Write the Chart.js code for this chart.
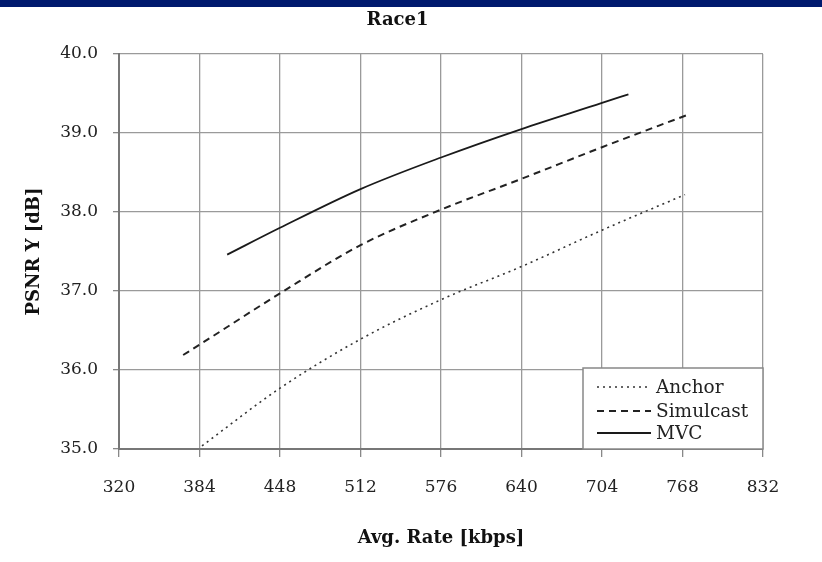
<!DOCTYPE html>
<html>
<head>
<meta charset="utf-8">
<title>Race1</title>
<script src="https://cdn.jsdelivr.net/npm/chart.js@4"></script>
<style>
  body { margin: 0; background: #fff; }
  #bar { position: absolute; left: 0; top: 0; width: 822px; height: 7px; background: #001a6e; }
  #wrap { position: absolute; left: 0; top: 0; width: 822px; height: 562px; }
</style>
</head>
<body>
<div id="wrap"><canvas id="chart" width="822" height="562"></canvas></div>
<div id="bar"></div>
<script>
// values
const anchorRate = [386, 448, 512, 576, 640, 704, 770];
const anchorPsnr = [35.04, 35.77, 36.39, 36.89, 37.31, 37.77, 38.22];
const simulcastRate = [371, 384, 448, 512, 576, 640, 704, 772];
const simulcastPsnr = [36.19, 36.32, 36.97, 37.58, 38.03, 38.42, 38.82, 39.23];
const mvcRate = [406, 448, 512, 576, 640, 704, 725];
const mvcPsnr = [37.46, 37.80, 38.29, 38.69, 39.05, 39.38, 39.49];
const seriesNames = ['Anchor', 'Simulcast', 'MVC'];

const FONT = "'DejaVu Serif', 'Liberation Serif', serif";

const toPoints = (xs, ys) => xs.map((x, i) => ({ x, y: ys[i] }));

// legend box in the lower right corner of the plot
const boxLegend = {
  id: 'boxLegend',
  afterDatasetsDraw(chart) {
    const { ctx, chartArea } = chart;
    const w = 180, h = 81;
    const x0 = chartArea.right - w, y0 = chartArea.bottom - h;
    ctx.save();
    ctx.fillStyle = '#fff';
    ctx.fillRect(x0, y0, w, h);
    ctx.strokeStyle = '#888';
    ctx.lineWidth = 1.5;
    ctx.strokeRect(x0, y0, w, h);
    const rows = [19, 43, 65];
    chart.data.datasets.forEach((ds, i) => {
      const y = y0 + rows[i];
      ctx.beginPath();
      ctx.setLineDash(ds.borderDash || []);
      ctx.strokeStyle = ds.borderColor;
      ctx.lineWidth = ds.borderWidth;
      ctx.moveTo(x0 + 14, y);
      ctx.lineTo(x0 + 68, y);
      ctx.stroke();
      ctx.setLineDash([]);
      ctx.fillStyle = '#222';
      ctx.font = '18.5px ' + FONT;
      ctx.textBaseline = 'middle';
      ctx.textAlign = 'left';
      ctx.fillText(ds.label, x0 + 73, y + 1);
    });
    ctx.restore();
  }
};

new Chart(document.getElementById('chart'), {
  type: 'line',
  data: {
    datasets: [
      {
        label: seriesNames[0],
        data: toPoints(anchorRate, anchorPsnr),
        borderColor: '#333',
        borderWidth: 1.6,
        borderDash: [2, 4],
        pointRadius: 0,
        cubicInterpolationMode: 'monotone'
      },
      {
        label: seriesNames[1],
        data: toPoints(simulcastRate, simulcastPsnr),
        borderColor: '#222',
        borderWidth: 2,
        borderDash: [7, 5],
        pointRadius: 0,
        cubicInterpolationMode: 'monotone'
      },
      {
        label: seriesNames[2],
        data: toPoints(mvcRate, mvcPsnr),
        borderColor: '#1a1a1a',
        borderWidth: 1.8,
        pointRadius: 0,
        cubicInterpolationMode: 'monotone'
      }
    ]
  },
  options: {
    responsive: false,
    animation: false,
    // left padding shifts the centred title over to where the reference has it
    layout: { padding: { left: 32, right: 59, top: 0, bottom: 0 } },
    plugins: {
      legend: { display: false },
      tooltip: { enabled: false },
      title: {
        display: true,
        text: 'Race1',
        color: '#111',
        font: { family: FONT, size: 18, weight: 'bold' },
        padding: { top: 9.2, bottom: 23.2 }
      }
    },
    scales: {
      x: {
        type: 'linear',
        min: 320,
        max: 832,
        afterFit: (scale) => { scale.height = 113; },
        ticks: {
          stepSize: 64,
          color: '#222',
          padding: 20,
          maxRotation: 0,
          font: { family: FONT, size: 17 },
          callback: (v) => String(v)
        },
        grid: { color: '#9a9a9a', lineWidth: 1.3, tickLength: 8, tickColor: '#888' },
        border: { color: '#777', width: 2 },
        title: {
          display: true,
          text: 'Avg. Rate [kbps]',
          color: '#111',
          font: { family: FONT, size: 18, weight: 'bold' },
          padding: { top: 0, bottom: 12.4 }
        }
      },
      y: {
        min: 35,
        max: 40,
        afterFit: (scale) => { scale.width = 87; },
        ticks: {
          stepSize: 1,
          color: '#222',
          padding: 15,
          font: { family: FONT, size: 17 },
          callback: (v) => v.toFixed(1)
        },
        grid: { color: '#9a9a9a', lineWidth: 1.3, tickLength: 6, tickColor: '#888' },
        border: { color: '#777', width: 2 },
        title: {
          display: true,
          text: 'PSNR Y [dB]',
          color: '#111',
          font: { family: FONT, size: 18, weight: 'bold' },
          padding: { top: -8.6, bottom: 0 }
        }
      }
    }
  },
  plugins: [boxLegend]
});
</script>
</body>
</html>
